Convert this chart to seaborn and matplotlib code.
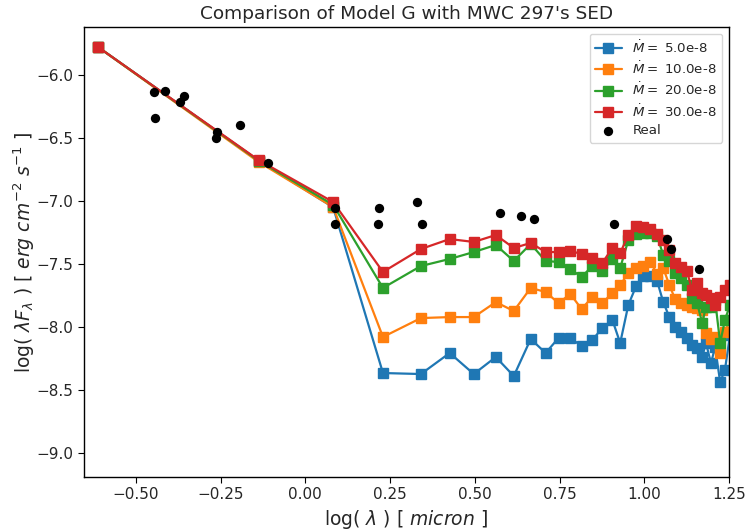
import matplotlib
matplotlib.use("Agg")
import matplotlib.pyplot as plt
import seaborn as sns
import pandas as pd

# ---- data ----
log_lambda = [-0.612, -0.138, 0.082, 0.229, 0.341, 0.426, 0.497, 0.562, 0.615, 0.665,
              0.709, 0.747, 0.782, 0.815, 0.847, 0.876, 0.906, 0.929, 0.953, 0.976,
              0.997, 1.018, 1.038, 1.056, 1.074, 1.091, 1.109, 1.126, 1.141, 1.156,
              1.171, 1.182, 1.197, 1.209, 1.224, 1.238, 1.253]

sed_5 = [-5.778, -6.68, -7.05, -8.365, -8.373, -8.206, -8.373, -8.238, -8.389, -8.095,
         -8.206, -8.087, -8.087, -8.151, -8.103, -8.008, -7.944, -8.127, -7.825, -7.675,
         -7.595, -7.595, -7.635, -7.802, -7.921, -8.0, -8.040, -8.087, -8.143, -8.167,
         -8.238, -8.127, -8.286, -8.159, -8.437, -8.341, -8.063]

sed_10 = [-5.778, -6.69, -7.048, -8.079, -7.929, -7.921, -7.921, -7.802, -7.873, -7.690,
          -7.722, -7.81, -7.738, -7.857, -7.762, -7.81, -7.73, -7.667, -7.571, -7.532,
          -7.516, -7.484, -7.579, -7.532, -7.667, -7.778, -7.810, -7.825, -7.841, -7.849,
          -7.865, -8.048, -8.095, -8.079, -8.206, -8.040, -7.944]

sed_20 = [-5.778, -6.68, -7.03, -7.690, -7.516, -7.460, -7.405, -7.349, -7.476, -7.341,
          -7.476, -7.484, -7.54, -7.603, -7.516, -7.556, -7.46, -7.532, -7.31, -7.262,
          -7.254, -7.254, -7.278, -7.429, -7.476, -7.571, -7.611, -7.667, -7.770, -7.810,
          -7.968, -7.841, -7.841, -7.786, -8.127, -7.944, -7.825]

sed_30 = [-5.778, -6.675, -7.008, -7.563, -7.381, -7.302, -7.325, -7.27, -7.373, -7.333,
          -7.405, -7.405, -7.397, -7.42, -7.452, -7.492, -7.373, -7.413, -7.27, -7.198,
          -7.206, -7.222, -7.262, -7.310, -7.389, -7.492, -7.524, -7.556, -7.706, -7.651,
          -7.730, -7.746, -7.770, -7.825, -7.762, -7.706, -7.667]

series_labels = [r"$\dot{M} =$ 5.0e-8", r"$\dot{M} =$ 10.0e-8",
                 r"$\dot{M} =$ 20.0e-8", r"$\dot{M} =$ 30.0e-8"]
series_colors = ["#1f77b4", "#ff7f0e", "#2ca02c", "#d62728"]

real_x = [-0.447, -0.415, -0.444, -0.371, -0.359, -0.262, -0.265, -0.194, -0.109,
          0.088, 0.088, 0.218, 0.215, 0.329, 0.344, 0.574, 0.635, 0.674, 0.912,
          1.068, 1.079, 1.162]
real_y = [-6.135, -6.127, -6.341, -6.214, -6.167, -6.452, -6.500, -6.397, -6.698,
          -7.056, -7.183, -7.056, -7.183, -7.008, -7.183, -7.095, -7.119, -7.143, -7.183,
          -7.302, -7.381, -7.540]

# ---- plot ----
sns.set_style("ticks")
plt.rcParams["font.family"] = ["DejaVu Sans"]

fig = plt.figure(figsize=(7.45, 5.31), dpi=100)
ax = fig.add_axes([0.1128, 0.1017, 0.8657, 0.8473])

for vals, lab, col in zip([sed_5, sed_10, sed_20, sed_30], series_labels, series_colors):
    df = pd.DataFrame({"x": log_lambda, "y": vals})
    sns.lineplot(data=df, x="x", y="y", ax=ax, color=col, label=lab, marker="s",
                 markersize=6.5, markeredgecolor=col, markeredgewidth=1,
                 linewidth=1.6, sort=False, errorbar=None)

df_real = pd.DataFrame({"x": real_x, "y": real_y})
sns.scatterplot(data=df_real, x="x", y="y", ax=ax, color="black", s=45,
                edgecolor="black", linewidth=0, label="Real", zorder=5)

ax.set_xlim(-0.653, 1.25)
ax.set_ylim(-9.19, -5.62)
ax.set_xticks([-0.5, -0.25, 0.0, 0.25, 0.5, 0.75, 1.0, 1.25])
ax.set_yticks([-6.0, -6.5, -7.0, -7.5, -8.0, -8.5, -9.0])
ax.tick_params(labelsize=11, length=4, color="black")
for s in ax.spines.values():
    s.set_color("black")
    s.set_linewidth(1.0)

ax.set_title("Comparison of Model G with MWC 297's SED", fontsize=13.3)
ax.set_xlabel(r"log( $\lambda$ ) [ $micron$ ]", fontsize=13.5)
ax.set_ylabel(r"log( $\lambda F_\lambda$ ) [ $erg\ cm^{-2}\ s^{-1}$ ]", fontsize=13.5,
              labelpad=0)

ax.legend(loc="upper right", fontsize=9.6, frameon=True, labelspacing=0.35,
          borderaxespad=0.5)

fig.savefig("out.png", dpi=100)
